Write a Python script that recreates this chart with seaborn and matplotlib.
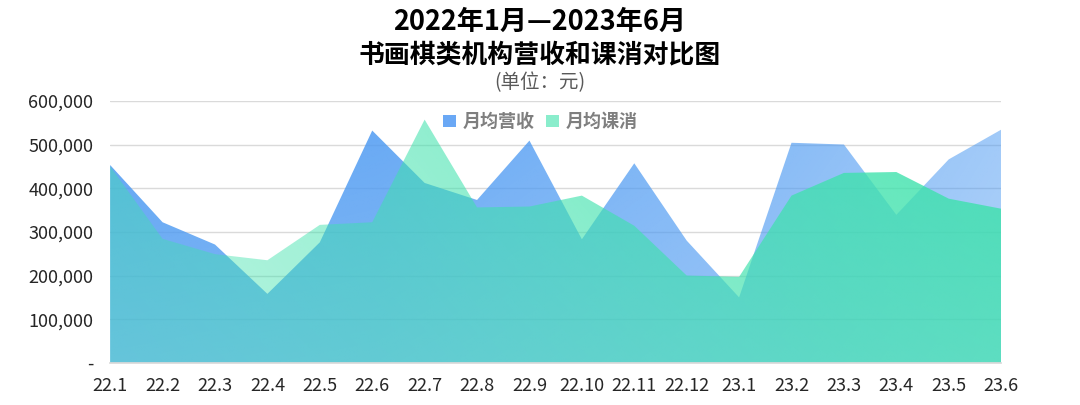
import numpy as np
import matplotlib
matplotlib.use("Agg")
import matplotlib.pyplot as plt
import matplotlib.ticker as mticker
from matplotlib.patches import Patch
import seaborn as sns

# data (unit: yuan)
months = ["22.1", "22.2", "22.3", "22.4", "22.5", "22.6", "22.7", "22.8", "22.9",
          "22.10", "22.11", "22.12", "23.1", "23.2", "23.3", "23.4", "23.5", "23.6"]
revenue = [453000, 322000, 271000, 158000, 276000, 532000, 412000, 373000, 509000,
           283000, 457000, 280000, 150000, 504000, 500000, 339000, 466000, 534000]
consumption = [450000, 284000, 249000, 235000, 316000, 322000, 557000, 356000, 358000,
               383000, 314000, 200000, 197000, 383000, 435000, 437000, 376000, 353000]
yticks = [0, 100000, 200000, 300000, 400000, 500000, 600000]

sns.set_theme(style="white")
plt.rcParams['font.family'] = ['Noto Sans CJK SC', 'DejaVu Sans']

fig = plt.figure(figsize=(10.8, 4.05), dpi=100)
ax = fig.add_axes([0.102, 0.104, 0.825, 0.647])

x = np.arange(len(months))
ymax = 600000
ax.set_xlim(0, len(months) - 1)
ax.set_ylim(0, ymax)


def gradient_rgba(rgb, ax_pts, alphas, bottom_fade=0.82):
    # horizontal alpha ramp, a bit lighter toward the bottom
    nx, ny = 400, 200
    fx = np.linspace(0, 1, nx)
    fy = np.linspace(0, 1, ny)
    a = np.interp(fx, ax_pts, alphas)[None, :] * (bottom_fade + (1 - bottom_fade) * fy[:, None])
    img = np.zeros((ny, nx, 4))
    img[..., 0] = rgb[0] / 255
    img[..., 1] = rgb[1] / 255
    img[..., 2] = rgb[2] / 255
    img[..., 3] = np.clip(a, 0, 1)
    return img


def gradient_area(values, rgba, z):
    poly = ax.fill_between(x, values, 0, color='none', lw=0)
    im = ax.imshow(rgba, extent=[0, len(months) - 1, 0, ymax], origin='lower',
                   aspect='auto', interpolation='bilinear', zorder=z)
    im.set_clip_path(poly.get_paths()[0], transform=ax.transData)


blue_img = gradient_rgba((77, 154, 242), [0, 0.3, 0.75, 1], [0.9, 0.86, 0.69, 0.54])
green_img = gradient_rgba((62, 226, 172), [0, 0.35, 0.82, 1], [0.44, 0.58, 0.82, 0.88])
gradient_area(revenue, blue_img, 2)
gradient_area(consumption, green_img, 3)

# axes styling
ax.set_yticks(yticks)
ax.yaxis.set_major_formatter(mticker.FuncFormatter(lambda v, p: "-" if v == 0 else f"{int(v):,}"))
ax.set_xticks(x)
ax.set_xticklabels(months)
ax.tick_params(axis='both', length=0, labelsize=13, colors='#262626')
ax.tick_params(axis='x', pad=10)
ax.tick_params(axis='y', pad=12)
ax.grid(axis='y', color='#dadada', lw=1)
ax.grid(axis='x', visible=False)
ax.set_axisbelow(True)
sns.despine(ax=ax, left=True, top=True, right=True)
ax.spines['bottom'].set_color('#d9d9d9')
ax.spines['bottom'].set_zorder(5)

# legend
handles = [Patch(facecolor='#6aa8f5', edgecolor='none', label='月均营收'),
           Patch(facecolor='#8aedcc', edgecolor='none', label='月均课消')]
leg = ax.legend(handles=handles, loc='center', bbox_to_anchor=(0.483, 0.92), ncol=2,
                frameon=False, handlelength=0.7, handleheight=0.7, handletextpad=0.4,
                columnspacing=0.6, prop={'size': 13, 'weight': 'bold'})
for t in leg.get_texts():
    t.set_color('#7f7f7f')
leg.set_zorder(6)

# titles
fig.text(0.5, 0.946, "2022年1月—2023年6月", ha='center', va='center',
         fontsize=19.5, fontweight='bold', color='black')
fig.text(0.5, 0.864, "书画棋类机构营收和课消对比图", ha='center', va='center',
         fontsize=18.6, fontweight='bold', color='black')
fig.text(0.5, 0.796, "(单位：元)", ha='center', va='center', fontsize=14, color='#595959')

fig.savefig("out.png", dpi=100)
